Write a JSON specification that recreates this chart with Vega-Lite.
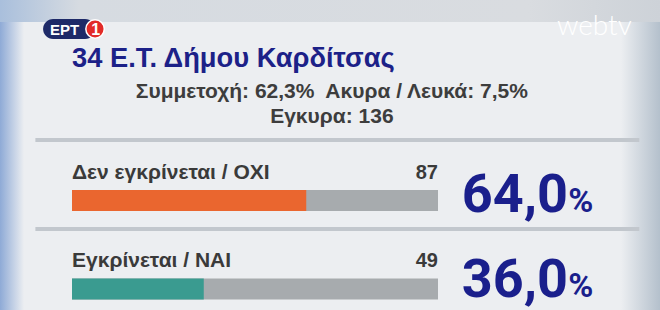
{
  "$schema": "https://vega.github.io/schema/vega-lite/v6.json",
  "width": 660,
  "height": 310,
  "padding": 0,
  "autosize": {"type": "none"},
  "background": "#eceef1",
  "config": {
    "view": {"stroke": null},
    "locale": {"number": {"decimal": ",", "thousands": ".", "grouping": [3], "currency": ["", " €"]}}
  },
  "data": {"values": [
    {"option": "Δεν εγκρίνεται / ΟΧΙ", "votes": 87, "pct": 64.0},
    {"option": "Εγκρίνεται / ΝΑΙ", "votes": 49, "pct": 36.0}
  ]},
  "resolve": {"scale": {"y": "independent"}},
  "layer": [
    {
      "data": {"values": [{"band": "top"}]},
      "mark": {"type": "bar", "height": 22, "color": {"gradient": "linear", "x1": 0, "x2": 1, "y1": 0, "y2": 0, "stops": [{"offset": 0, "color": "#a9bfdc"}, {"offset": 0.12, "color": "#d6dbe1"}, {"offset": 0.8, "color": "#d9dce0"}, {"offset": 1, "color": "#cdd2d8"}]}},
      "encoding": {
        "x": {"datum": -19.7, "type": "quantitative", "scale": {"domain": [0, 100], "range": [72, 438]}, "axis": null},
        "x2": {"datum": 160.7},
        "y": {"field": "band", "type": "nominal", "scale": {"type": "point", "range": [11, 11], "padding": 0}, "axis": null}
      }
    },
    {
      "data": {"values": [{"band": "left"}]},
      "mark": {"type": "bar", "height": 288, "color": {"gradient": "linear", "x1": 0, "x2": 1, "y1": 0, "y2": 0, "stops": [{"offset": 0, "color": "#8eaad6"}, {"offset": 1, "color": "#eceef1"}]}},
      "encoding": {
        "x": {"datum": -19.7, "type": "quantitative", "axis": null},
        "x2": {"datum": -13.1},
        "y": {"field": "band", "type": "nominal", "scale": {"type": "point", "range": [166, 166], "padding": 0}, "axis": null}
      }
    },
    {
      "data": {"values": [{"band": "right"}]},
      "mark": {"type": "bar", "height": 288, "color": {"gradient": "linear", "x1": 0, "x2": 1, "y1": 0, "y2": 0, "stops": [{"offset": 0, "color": "#eceef1"}, {"offset": 1, "color": "#b4c0cc"}]}},
      "encoding": {
        "x": {"datum": 150, "type": "quantitative", "axis": null},
        "x2": {"datum": 160.7},
        "y": {"field": "band", "type": "nominal", "scale": {"type": "point", "range": [166, 166], "padding": 0}, "axis": null}
      }
    },
    {
      "data": {"values": [{"sep": "top"}, {"sep": "mid"}]},
      "mark": {"type": "rule", "strokeWidth": 4, "color": "#c2c7cd"},
      "encoding": {
        "x": {"datum": -10, "type": "quantitative", "axis": null},
        "x2": {"datum": 155},
        "y": {"field": "sep", "type": "nominal", "scale": {"type": "point", "domain": ["top", "mid"], "range": [140, 229], "padding": 0}, "axis": null}
      }
    },
    {
      "data": {"values": [{"logo": "ΕΡΤ"}]},
      "mark": {"type": "bar", "height": 20, "cornerRadius": 10, "color": "#1e2a68"},
      "encoding": {
        "x": {"datum": -7.9, "type": "quantitative", "axis": null},
        "x2": {"datum": 6.3},
        "y": {"field": "logo", "type": "nominal", "scale": {"type": "point", "range": [29, 29], "padding": 0}, "axis": null}
      }
    },
    {
      "data": {"values": [{"logo": "1"}]},
      "mark": {"type": "circle", "size": 340, "fill": "#e22b28", "opacity": 1, "stroke": "#ffffff", "strokeWidth": 1.5},
      "encoding": {
        "x": {"datum": 6.3, "type": "quantitative", "axis": null},
        "y": {"field": "logo", "type": "nominal", "scale": {"type": "point", "range": [29, 29], "padding": 0}, "axis": null}
      }
    },
    {
      "data": {"values": [{"logo": "ΕΡΤ"}]},
      "mark": {"type": "text", "font": "Liberation Sans", "fontWeight": "bold", "fontSize": 15, "color": "#ffffff", "align": "center", "baseline": "middle"},
      "encoding": {
        "text": {"field": "logo"},
        "x": {"datum": -2.0, "type": "quantitative", "axis": null},
        "y": {"field": "logo", "type": "nominal", "scale": {"type": "point", "range": [30, 30], "padding": 0}, "axis": null}
      }
    },
    {
      "data": {"values": [{"logo": "1"}]},
      "mark": {"type": "text", "font": "Liberation Sans", "fontWeight": "bold", "fontSize": 16, "color": "#ffffff", "align": "center", "baseline": "middle"},
      "encoding": {
        "text": {"field": "logo"},
        "x": {"datum": 6.5, "type": "quantitative", "axis": null},
        "y": {"field": "logo", "type": "nominal", "scale": {"type": "point", "range": [30, 30], "padding": 0}, "axis": null}
      }
    },
    {
      "data": {"values": [{"logo": "webtv"}]},
      "mark": {"type": "text", "font": "Lato", "fontWeight": 300, "fontSize": 28, "color": "#ffffff", "align": "left", "baseline": "alphabetic"},
      "encoding": {
        "text": {"field": "logo"},
        "x": {"datum": 132.5, "type": "quantitative", "axis": null},
        "y": {"field": "logo", "type": "nominal", "scale": {"type": "point", "range": [35, 35], "padding": 0}, "axis": null}
      }
    },
    {
      "data": {"values": [{"t": "34 Ε.Τ. Δήμου Καρδίτσας"}]},
      "mark": {"type": "text", "font": "Liberation Sans", "fontWeight": "bold", "fontSize": 27.3, "color": "#1c2188", "align": "left", "baseline": "alphabetic"},
      "encoding": {
        "text": {"field": "t"},
        "x": {"datum": 0, "type": "quantitative", "axis": null},
        "y": {"field": "t", "type": "nominal", "scale": {"type": "point", "range": [67, 67], "padding": 0}, "axis": null}
      }
    },
    {
      "data": {"values": [{"line": "Συμμετοχή: 62,3%\u00a0 Ακυρα / Λευκά: 7,5%"}, {"line": "Εγκυρα: 136"}]},
      "mark": {"type": "text", "font": "Liberation Sans", "fontWeight": "bold", "fontSize": 21, "color": "#3d3d3d", "align": "center", "baseline": "alphabetic"},
      "encoding": {
        "text": {"field": "line"},
        "x": {"datum": 71, "type": "quantitative", "axis": null},
        "y": {"field": "line", "type": "nominal", "sort": null, "scale": {"type": "point", "range": [98, 123], "padding": 0}, "axis": null}
      }
    },
    {
      "mark": {"type": "bar", "height": 21, "color": "#a7abae"},
      "encoding": {
        "x": {"datum": 0, "type": "quantitative", "axis": null},
        "x2": {"datum": 100},
        "y": {"field": "option", "type": "nominal", "sort": null, "scale": {"type": "point", "range": [200.5, 289], "padding": 0}, "axis": null}
      }
    },
    {
      "mark": {"type": "bar", "height": 21},
      "encoding": {
        "x": {"field": "pct", "type": "quantitative", "axis": null},
        "x2": {"datum": 0},
        "y": {"field": "option", "type": "nominal", "sort": null, "scale": {"type": "point", "range": [200.5, 289], "padding": 0}, "axis": null},
        "color": {"field": "option", "type": "nominal", "scale": {"domain": ["Δεν εγκρίνεται / ΟΧΙ", "Εγκρίνεται / ΝΑΙ"], "range": ["#ea662f", "#3a9b90"]}, "legend": null}
      }
    },
    {
      "mark": {"type": "text", "font": "Liberation Sans", "fontWeight": "bold", "fontSize": 21, "color": "#3a3a3a", "align": "left", "baseline": "alphabetic", "dy": -22},
      "encoding": {
        "text": {"field": "option"},
        "x": {"datum": 0, "type": "quantitative", "axis": null},
        "y": {"field": "option", "type": "nominal", "sort": null, "scale": {"type": "point", "range": [200.5, 289], "padding": 0}, "axis": null}
      }
    },
    {
      "mark": {"type": "text", "font": "Liberation Sans", "fontWeight": "bold", "fontSize": 20, "color": "#3a3a3a", "align": "right", "baseline": "alphabetic", "dy": -22},
      "encoding": {
        "text": {"field": "votes", "type": "quantitative"},
        "x": {"datum": 100, "type": "quantitative", "axis": null},
        "y": {"field": "option", "type": "nominal", "sort": null, "scale": {"type": "point", "range": [200.5, 289], "padding": 0}, "axis": null}
      }
    },
    {
      "mark": {"type": "text", "font": "Roboto", "fontWeight": "bold", "fontSize": 54, "color": "#1a1f8c", "align": "left", "baseline": "alphabetic", "dy": 11},
      "encoding": {
        "text": {"field": "pct", "type": "quantitative", "format": ".1f"},
        "x": {"datum": 106.5, "type": "quantitative", "axis": null},
        "y": {"field": "option", "type": "nominal", "sort": null, "scale": {"type": "point", "range": [201, 286], "padding": 0}, "axis": null}
      }
    },
    {
      "mark": {"type": "text", "font": "Roboto", "fontWeight": "bold", "fontSize": 34, "color": "#1a1f8c", "align": "left", "baseline": "alphabetic", "dy": 11},
      "encoding": {
        "text": {"value": "%"},
        "x": {"datum": 135.6, "type": "quantitative", "axis": null},
        "y": {"field": "option", "type": "nominal", "sort": null, "scale": {"type": "point", "range": [201, 286], "padding": 0}, "axis": null}
      }
    }
  ]
}
